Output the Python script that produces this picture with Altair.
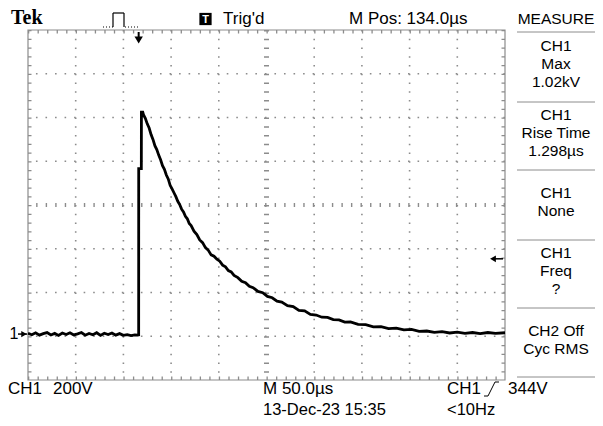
import altair as alt
import pandas as pd

# ---------------- data (read from the screen capture) ----------------
# time in microseconds relative to the trigger, voltage in volts (CH1, 200 V/div)
BASE_T = [-116, -112, -108, -104, -100, -96, -92, -88, -84, -80, -76, -72, -68, -64,
          -60, -56, -52, -48, -44, -40, -36, -32, -28, -24, -20, -16, -12, -8, -4]
BASE_V = [4, -3, 6, -5, 2, 7, -4, 3, -6, 5, -2, 6, -4, 1, 7, -5, 3, -3, 6, -6,
          4, -2, 5, -5, 2, -6, -3, -7, -4]
EDGE_T = [-1, 0, 0.05, 2.8, 2.9, 4.3]
EDGE_V = [-5, -4, 756, 756, 1015, 1015]
DECAY_T = [5, 7, 9, 11, 13, 15, 17, 19, 21, 23, 25, 27, 29, 31, 33, 35, 37, 39, 41, 43,
           45, 47, 49, 51, 53, 55, 58, 61, 64, 67, 70, 73, 76, 79, 82, 85, 88, 91, 94,
           97, 100, 104, 108, 112, 116, 120, 125, 130, 135, 140, 145, 150, 156, 162,
           168, 174, 180, 186, 192, 198, 204, 210, 216, 222, 230, 238, 246, 254, 262,
           270, 278, 286, 294, 302, 310, 318, 326, 334, 342, 350, 358, 366, 374, 384]
DECAY_V = [1003, 986, 961, 942, 912, 890, 861, 843, 818, 797, 770, 753, 727, 709, 680,
           664, 646, 628, 607, 592, 571, 558, 538, 527, 505, 496, 470, 455, 430, 418,
           395, 383, 362, 356, 342, 333, 315, 307, 290, 284, 268, 258, 241, 235, 218,
           212, 195, 189, 172, 166, 150, 146, 130, 126, 108, 106, 90, 87, 77, 76, 66,
           65, 55, 56, 44, 43, 33, 34, 25, 27, 19, 21, 12, 14, 8, 11, 5, 9, 3, 7, 2,
           7, 3, 6]

TIME_US = BASE_T + EDGE_T + DECAY_T
VOLTS = BASE_V + EDGE_V + DECAY_V

T_LEFT = -116          # screen left edge (M Pos 134.0 us at centre)
US_PER_DIV = 50
V_BOTTOM = -210        # screen bottom edge
V_PER_DIV = 200
N_XDIV = 10
N_YDIV = 8
TRIGGER_TIME = 0
TRIGGER_LEVEL = 344
GROUND = 0

HEADER_BRAND = "Tek"
HEADER_TRIG = "Trig'd"
HEADER_MPOS = "M Pos: 134.0µs"
MEASURE_TITLE = "MEASURE"
MEASURE_BLOCKS = [["CH1", "Max", "1.02kV"],
                  ["CH1", "Rise Time", "1.298µs"],
                  ["CH1", "None"],
                  ["CH1", "Freq", "?"],
                  ["CH2 Off", "Cyc RMS"]]
FOOT_CH = "CH1"
FOOT_SCALE = "200V"
FOOT_TIMEBASE = "M 50.0µs"
FOOT_DATE = "13-Dec-23 15:35"
FOOT_TRIG_CH = "CH1"
FOOT_TRIG_LEVEL = "344V"
FOOT_FREQ = "<10Hz"

# ---------------- layout ----------------
W, H = 477, 350
OX, OY = 28, 30            # page position of the graticule's top-left corner
SANS = "Liberation Sans, Arial, sans-serif"
SERIF = "Liberation Serif, Times New Roman, serif"
GRID = "#8c8c8c"
FS = 17
PFS = 15.5                 # measurement panel font size
PCX = 556                  # measurement panel centre

X_SCALE = alt.Scale(domain=[T_LEFT, T_LEFT + US_PER_DIV * N_XDIV], nice=False, zero=False)
Y_SCALE = alt.Scale(domain=[V_BOTTOM, V_BOTTOM + V_PER_DIV * N_YDIV], nice=False, zero=False)
XP = W / (N_XDIV * 5)   # minor tick spacing, px
YP = H / (N_YDIV * 5)

one = pd.DataFrame({"d": [0]})


def px(x):
    return x - OX


def py(y):
    return y - OY


def label(s, x, y, align="left", size=FS, font=SANS, weight="normal", color="black"):
    return alt.Chart(pd.DataFrame({"s": [s]})).mark_text(
        align=align, baseline="middle", fontSize=size, font=font,
        fontWeight=weight, color=color
    ).encode(x=alt.value(px(x)), y=alt.value(py(y)), text="s:N")


def seg(x1, y1, x2, y2, color="black", width=1, dash=None):
    kw = dict(color=color, strokeWidth=width)
    if dash:
        kw["strokeDash"] = dash
    return alt.Chart(one).mark_rule(**kw).encode(
        x=alt.value(px(x1)), y=alt.value(py(y1)),
        x2=alt.value(px(x2)), y2=alt.value(py(y2)))


layers = []

# dotted division lines
vdiv = pd.DataFrame({"t": [T_LEFT + US_PER_DIV * k for k in range(1, N_XDIV) if k != N_XDIV // 2]})
hdiv = pd.DataFrame({"v": [V_BOTTOM + V_PER_DIV * k for k in range(1, N_YDIV) if k != N_YDIV // 2]})
layers.append(alt.Chart(vdiv).mark_rule(color=GRID, strokeWidth=1.6, strokeDash=[1.6, YP - 1.6]).encode(
    x=alt.X("t:Q", scale=X_SCALE, axis=None)))
layers.append(alt.Chart(hdiv).mark_rule(color=GRID, strokeWidth=1.6, strokeDash=[1.6, XP - 1.6]).encode(
    y=alt.Y("v:Q", scale=Y_SCALE, axis=None)))

# centre cross with minor ticks
cx = pd.DataFrame({"t": [T_LEFT + US_PER_DIV * N_XDIV / 2]})
cy = pd.DataFrame({"v": [V_BOTTOM + V_PER_DIV * N_YDIV / 2]})
layers.append(alt.Chart(cx).mark_rule(color=GRID, strokeWidth=5, strokeDash=[1.4, YP - 1.4]).encode(
    x=alt.X("t:Q", scale=X_SCALE, axis=None)))
layers.append(alt.Chart(cy).mark_rule(color=GRID, strokeWidth=4, strokeDash=[1.4, XP - 1.4]).encode(
    y=alt.Y("v:Q", scale=Y_SCALE, axis=None)))

# frame
layers.append(alt.Chart(one).mark_rect(fillOpacity=0, stroke=GRID, strokeWidth=1.2).encode(
    x=alt.value(0), x2=alt.value(W), y=alt.value(0), y2=alt.value(H)))
# border minor ticks (pointing inward)
layers.append(alt.Chart(one).mark_rule(color=GRID, strokeWidth=3.5, strokeDash=[1.3, XP - 1.3]).encode(
    x=alt.value(0), x2=alt.value(W), y=alt.value(1.75)))
layers.append(alt.Chart(one).mark_rule(color=GRID, strokeWidth=3.5, strokeDash=[1.3, XP - 1.3]).encode(
    x=alt.value(0), x2=alt.value(W), y=alt.value(H - 1.75)))
layers.append(alt.Chart(one).mark_rule(color=GRID, strokeWidth=3.5, strokeDash=[1.3, YP - 1.3]).encode(
    y=alt.value(0), y2=alt.value(H), x=alt.value(1.75)))
layers.append(alt.Chart(one).mark_rule(color=GRID, strokeWidth=3.5, strokeDash=[1.3, YP - 1.3]).encode(
    y=alt.value(0), y2=alt.value(H), x=alt.value(W - 1.75)))

# waveform
wave = pd.DataFrame({"t": TIME_US, "v": VOLTS, "i": range(len(TIME_US))})
layers.append(alt.Chart(wave).mark_line(color="black", strokeWidth=2.8).encode(
    x=alt.X("t:Q", scale=X_SCALE, axis=None),
    y=alt.Y("v:Q", scale=Y_SCALE, axis=None),
    order=alt.Order("i:Q")))

# trigger position arrow (top)
trig = pd.DataFrame({"t": [TRIGGER_TIME]})
layers.append(alt.Chart(trig).mark_rule(color="black", strokeWidth=2).encode(
    x=alt.X("t:Q", scale=X_SCALE, axis=None), y=alt.value(2), y2=alt.value(9)))
layers.append(alt.Chart(trig).mark_point(shape="triangle-down", filled=True, color="black",
                                         size=70, opacity=1).encode(
    x=alt.X("t:Q", scale=X_SCALE, axis=None), y=alt.value(10)))

# ground marker (left)
gnd = pd.DataFrame({"v": [GROUND]})
layers.append(alt.Chart(gnd).mark_rule(color="black", strokeWidth=1.5).encode(
    y=alt.Y("v:Q", scale=Y_SCALE, axis=None), x=alt.value(-10), x2=alt.value(-1)))
layers.append(alt.Chart(gnd).mark_point(shape="triangle-right", filled=True, color="black",
                                        size=40, opacity=1).encode(
    y=alt.Y("v:Q", scale=Y_SCALE, axis=None), x=alt.value(-4)))
layers.append(alt.Chart(gnd).mark_text(text="1", fontSize=16, font=SANS, align="center",
                                       baseline="middle").encode(
    y=alt.Y("v:Q", scale=Y_SCALE, axis=None), x=alt.value(-14)))

# trigger level marker (right)
tl = pd.DataFrame({"v": [TRIGGER_LEVEL]})
layers.append(alt.Chart(tl).mark_rule(color="black", strokeWidth=1.5).encode(
    y=alt.Y("v:Q", scale=Y_SCALE, axis=None), x=alt.value(W - 13), x2=alt.value(W - 2)))
layers.append(alt.Chart(tl).mark_point(shape="triangle-left", filled=True, color="black",
                                       size=45, opacity=1).encode(
    y=alt.Y("v:Q", scale=Y_SCALE, axis=None), x=alt.value(W - 12)))

# header
layers.append(label(HEADER_BRAND, 11, 18, size=20, font=SERIF, weight="bold"))
layers.append(seg(103, 27, 113, 27, dash=[1, 2]))
layers.append(seg(113, 27, 113, 13, width=1.2))
layers.append(seg(113, 13, 124, 13, width=1.2))
layers.append(seg(124, 13, 124, 27, width=1.2))
layers.append(seg(125, 27, 138, 27, dash=[1, 2]))
layers.append(alt.Chart(one).mark_square(size=150, color="black", opacity=1).encode(
    x=alt.value(px(205.5)), y=alt.value(py(19))))
layers.append(label("T", 205.5, 19.5, align="center", size=11, weight="bold", color="white"))
layers.append(label(HEADER_TRIG, 223, 19))
layers.append(label(HEADER_MPOS, 349, 19))
layers.append(label(MEASURE_TITLE, PCX, 19, align="center", size=PFS))

# measurement panel
SEPS = [32, 102, 170, 240, 308, 377]
for yy in SEPS:
    layers.append(seg(517, yy, 595, yy, color="#8c8c8c", width=1))
for bi, block in enumerate(MEASURE_BLOCKS):
    top, bot = SEPS[bi], SEPS[bi + 1]
    c = (top + bot) / 2 - 3
    n = len(block)
    for li, s in enumerate(block):
        layers.append(label(s, PCX, c + (li - (n - 1) / 2) * 18, align="center", size=PFS))

# footer
layers.append(label(FOOT_CH, 8, 389))
layers.append(label(FOOT_SCALE, 53, 389))
layers.append(label(FOOT_TIMEBASE, 263, 389))
layers.append(label(FOOT_DATE, 263, 409.5, size=16.5))
layers.append(label(FOOT_TRIG_CH, 447, 389))
layers.append(seg(484, 396, 488, 396))
layers.append(seg(488, 396, 495, 382))
layers.append(seg(495, 382, 499, 382))
layers.append(label(FOOT_TRIG_LEVEL, 508, 389))
layers.append(label(FOOT_FREQ, 447, 409.5, size=16.5))

chart = alt.layer(*layers).properties(
    width=W, height=H,
    padding={"left": OX - 8, "top": OY - 8, "right": 587 - (OX - 8) - W, "bottom": 426 - 8 - OY - H},
    autosize=alt.AutoSizeParams(type="none"),
    background="white",
).configure_view(stroke=None)

chart.save("out.html", embed_options={"renderer": "svg", "actions": False})
